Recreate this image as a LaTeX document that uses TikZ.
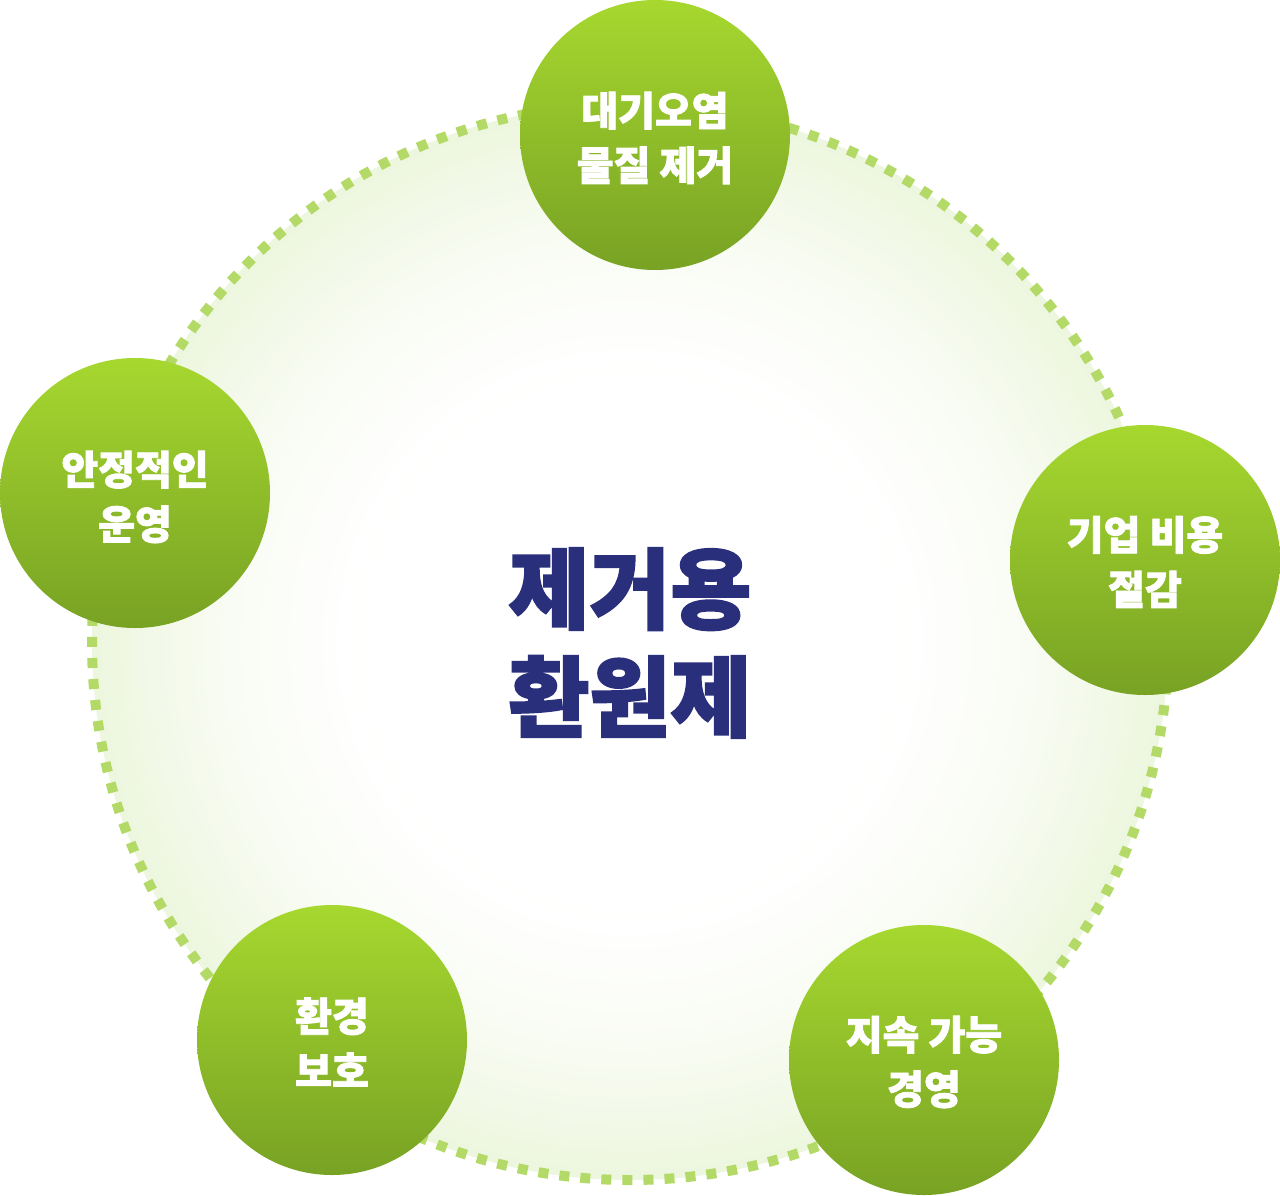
\documentclass[tikz,border=0pt]{standalone}
\usepackage{fontspec}
\newfontfamily\kr[BoldFeatures={FakeBold=2}]{Noto Sans CJK KR}
\definecolor{dotgreen}{HTML}{B3D966}
\definecolor{edgegreen}{HTML}{EDF6DE}
\definecolor{bubtop}{HTML}{A6D82F}
\definecolor{bubbot}{HTML}{78A224}
\definecolor{navy}{HTML}{2A2F7C}
\begin{document}
\begin{tikzpicture}[x=0.75pt,y=-0.75pt,
  ring/.style={circle, minimum size=807pt, inner sep=0pt, draw=dotgreen, line width=7.5pt, dash pattern=on 7.5pt off 8.3pt},
  bub/.style={circle, minimum size=202.5pt, inner sep=0pt, top color=bubtop, bottom color=bubbot, draw=none},
  bubtext/.style={text=white, align=center, font=\kr\bfseries\fontsize{30pt}{41pt}\selectfont},
  title/.style={text=navy, align=center, font=\kr\bfseries\fontsize{66pt}{81pt}\selectfont}]
\useasboundingbox (0,0) rectangle (1280,1195);
\foreach \i in {0,...,59}{
  \pgfmathsetmacro{\rr}{(538-\i*4.8)*0.75}
  \pgfmathsetmacro{\pc}{100*((59-\i)/59)^1.6}
  \fill[edgegreen!\pc!white] (630,642) circle[radius=\rr pt];
}
\node[ring] (ring) at (630,642) {};
\node[title] (center) at (630,643) {제거용\\환원제};
\node[bub] (c1) at (655,135) {};
\node[bub] (c2) at (1145,560) {};
\node[bub] (c3) at (924,1060) {};
\node[bub] (c4) at (332,1040) {};
\node[bub] (c5) at (135,493) {};
\node[bubtext] (t1) at (655,138) {대기오염\\물질 제거};
\node[bubtext] (t2) at (1145,562) {기업 비용\\절감};
\node[bubtext] (t3) at (924,1062) {지속 가능\\경영};
\node[bubtext] (t4) at (332,1042) {환경\\보호};
\node[bubtext] (t5) at (135,497) {안정적인\\운영};
\end{tikzpicture}
\end{document}
